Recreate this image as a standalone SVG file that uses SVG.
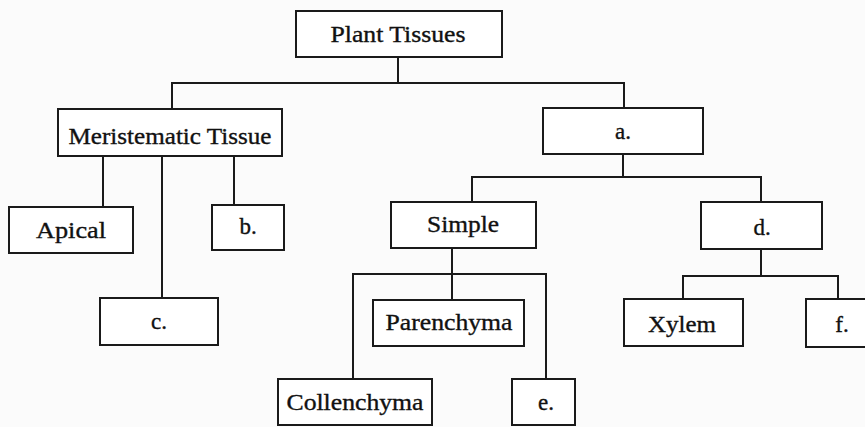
<svg xmlns="http://www.w3.org/2000/svg" width="865" height="427" viewBox="0 0 865 427">
<style>
.box{fill:#fff;stroke:#1a1a1a;stroke-width:2}
.ln{fill:none;stroke:#1a1a1a;stroke-width:2}
text{font-family:"Liberation Serif","DejaVu Serif",serif;font-size:23px;fill:#111;stroke:#111;stroke-width:0.35;text-anchor:middle}
</style>
<rect width="865" height="427" fill="#fbfbfb"/>
<g id="connectors" class="ln">
<path d="M398,57V83M172,109V83H624V108"/>
<path d="M623,154V177M472,202V177H761V202"/>
<path d="M103,156V207M234,156V205M162,156V298"/>
<path d="M452,248V300M353,379V274H546V379"/>
<path d="M761,249V276M683,299V276H838V299"/>
</g>
<g id="plant-tissues"><rect class="box" x="296" y="11" width="206" height="46"/><text x="398" y="42" textLength="135" lengthAdjust="spacingAndGlyphs">Plant Tissues</text></g>
<g id="meristematic"><rect class="box" x="58" y="109" width="224" height="47"/><text x="170" y="144" textLength="203" lengthAdjust="spacingAndGlyphs">Meristematic Tissue</text></g>
<g id="a"><rect class="box" x="543" y="108" width="160" height="46"/><text x="623" y="139">a.</text></g>
<g id="apical"><rect class="box" x="9" y="207" width="124" height="46"/><text x="71" y="238" textLength="70" lengthAdjust="spacingAndGlyphs">Apical</text></g>
<g id="b"><rect class="box" x="212" y="205" width="72" height="45"/><text x="248" y="234">b.</text></g>
<g id="c"><rect class="box" x="100" y="298" width="118" height="47"/><text x="159" y="329">c.</text></g>
<g id="simple"><rect class="box" x="391" y="202" width="145" height="46"/><text x="463" y="232" textLength="72" lengthAdjust="spacingAndGlyphs">Simple</text></g>
<g id="d"><rect class="box" x="701" y="202" width="121" height="47"/><text x="762" y="235">d.</text></g>
<g id="parenchyma"><rect class="box" x="373" y="300" width="151" height="46"/><text x="449" y="330" textLength="127" lengthAdjust="spacingAndGlyphs">Parenchyma</text></g>
<g id="xylem"><rect class="box" x="624" y="299" width="119" height="47"/><text x="682" y="332" textLength="68" lengthAdjust="spacingAndGlyphs">Xylem</text></g>
<g id="f"><rect class="box" x="806" y="299" width="62" height="48"/><text x="842" y="332">f.</text></g>
<g id="collenchyma"><rect class="box" x="278" y="379" width="154" height="46"/><text x="355" y="410" textLength="137" lengthAdjust="spacingAndGlyphs">Collenchyma</text></g>
<g id="e"><rect class="box" x="512" y="379" width="63" height="46"/><text x="546" y="410">e.</text></g>
</svg>
